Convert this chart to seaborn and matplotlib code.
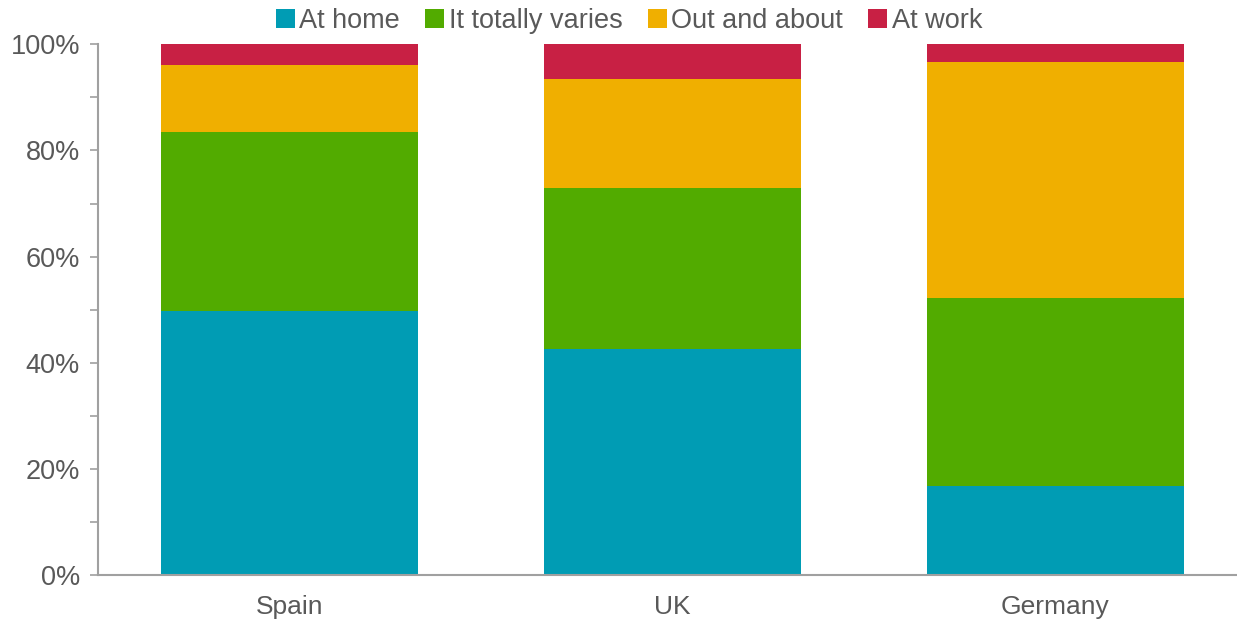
import matplotlib
matplotlib.use("Agg")
import matplotlib.pyplot as plt
from matplotlib.ticker import MultipleLocator, FuncFormatter
from matplotlib.patches import Patch
import seaborn as sns
import pandas as pd
import numpy as np

countries = ["Spain", "UK", "Germany"]
series_names = ["At home", "It totally varies", "Out and about", "At work"]
at_home = [49.7, 42.6, 16.8]
totally_varies = [33.7, 30.4, 35.4]
out_and_about = [12.7, 20.5, 44.5]
at_work = [3.9, 6.5, 3.3]
colors = ["#009CB4", "#52AB00", "#F0AF00", "#C82044"]

sns.set_theme(style="white")
plt.rcParams["font.family"] = ["Liberation Sans", "DejaVu Sans"]

fig = plt.figure(figsize=(12.37, 6.22), dpi=100)
ax = fig.add_axes([98 / 1237, (622 - 575.3) / 622, 1149 / 1237, 531 / 622])

stack = np.cumsum(np.array([at_home, totally_varies, out_and_about, at_work]), axis=0)
for i in range(3, -1, -1):
    df = pd.DataFrame({"country": countries, "value": stack[i]})
    sns.barplot(data=df, x="country", y="value", color=colors[i], width=0.67,
                saturation=1, ax=ax, linewidth=0, order=countries)

ax.set_xlim(-0.5, 2.5)
ax.set_ylim(0, 100)
ax.set_xlabel("")
ax.set_ylabel("")
ax.yaxis.set_major_locator(MultipleLocator(20))
ax.yaxis.set_minor_locator(MultipleLocator(10))
ax.yaxis.set_major_formatter(FuncFormatter(lambda v, p: f"{int(v)}%"))
for s in ["top", "right"]:
    ax.spines[s].set_visible(False)
for s in ["left", "bottom"]:
    ax.spines[s].set_color("#A0A0A0")
    ax.spines[s].set_linewidth(1.5)
ax.tick_params(axis="y", which="both", direction="out", length=6, width=1.2,
               color="#A0A0A0", left=True, labelsize=19.5, labelcolor="#595959", pad=7)
ax.tick_params(axis="x", length=0, labelsize=19, labelcolor="#595959", pad=14)

handles = [Patch(facecolor=c, edgecolor="none") for c in colors]
fig.legend(handles, series_names, loc="center", bbox_to_anchor=(629 / 1237, 1 - 21 / 622),
           ncol=4, frameon=False, fontsize=19.5, handlelength=0.7, handleheight=0.7,
           handletextpad=0.15, columnspacing=0.95, labelcolor="#595959")

fig.savefig("out.png", dpi=100)
